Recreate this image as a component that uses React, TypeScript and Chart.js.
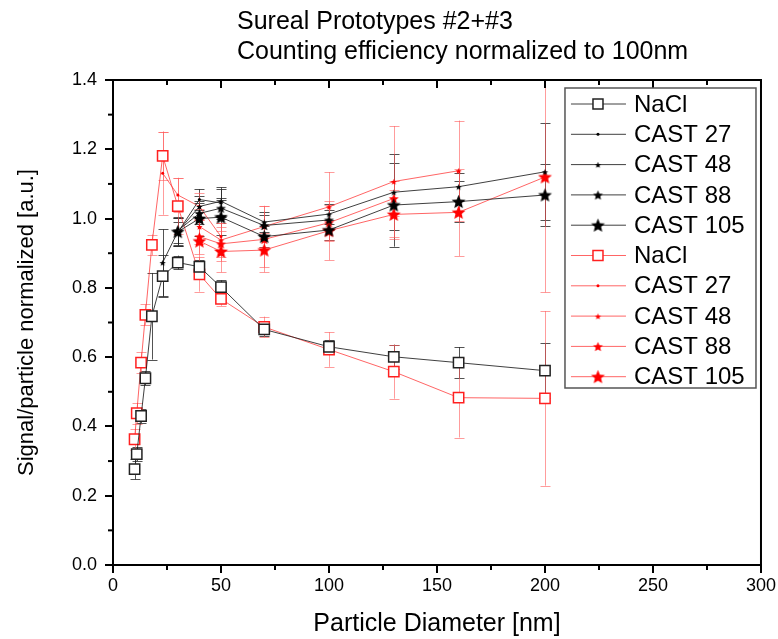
import React, { useEffect, useRef } from 'react';
import { Chart, registerables } from 'chart.js';

Chart.register(...registerables);

const FONT = "'Liberation Sans', Arial, sans-serif";

// ---------- data ----------
const titleLines = ['Sureal Prototypes #2+#3', 'Counting efficiency normalized to 100nm'];
const xTitle = 'Particle Diameter [nm]';
const yTitle = 'Signal/particle normalized [a.u.]';

const naclDiameters = [10, 11, 13, 15, 18, 23, 30, 40, 50, 70, 100, 130, 160, 200];
const blackNaCl = [0.277, 0.32, 0.43, 0.539, 0.718, 0.834, 0.873, 0.861, 0.802, 0.68, 0.63, 0.601, 0.584, 0.561];
const blackNaClErr = [0.03, 0.02, 0.02, 0.02, 0.125, 0.06, 0.02, 0.02, 0.02, 0.02, 0.02, 0.035, 0.045, 0.08];
const redNaCl = [0.363, 0.438, 0.584, 0.722, 0.924, 1.181, 1.036, 0.839, 0.768, 0.687, 0.622, 0.558, 0.483, 0.481];
const redNaClErr = [0.03, 0.03, 0.03, 0.03, 0.03, 0.07, 0.08, 0.05, 0.02, 0.03, 0.05, 0.078, 0.115, 0.252];

const black27X = [30, 40, 50];
const black27 = [0.96, 1.055, 1.045];
const black27Err = [0.03, 0.03, 0.04];
const black48X = [23, 30, 40, 50, 70, 100, 130, 160, 200];
const black48 = [0.873, 0.962, 1.035, 1.05, 0.99, 1.013, 1.076, 1.092, 1.135];
const black48Err = [0.096, 0.04, 0.03, 0.04, 0.03, 0.03, 0.11, 0.04, 0.14];
const black88X = [30, 40, 50, 70, 100];
const black88 = [0.965, 1.015, 1.03, 0.98, 0.996];
const black88Err = [0.04, 0.03, 0.03, 0.03, 0.03];
const black105X = [30, 40, 50, 70, 100, 130, 160, 200];
const black105 = [0.962, 1.0, 1.004, 0.948, 0.967, 1.039, 1.049, 1.068];
const black105Err = [0.04, 0.05, 0.05, 0.03, 0.03, 0.12, 0.06, 0.09];

const red27X = [23, 30, 40, 50];
const red27 = [1.131, 1.068, 1.035, 0.948];
const red27Err = [0.12, 0.05, 0.04, 0.04];
const red48X = [40, 50, 70, 100, 130, 160];
const red48 = [0.977, 0.938, 0.977, 1.034, 1.107, 1.138];
const red48Err = [0.05, 0.05, 0.06, 0.1, 0.16, 0.145];
const red88X = [40, 50, 70, 100, 130];
const red88 = [0.948, 0.927, 0.94, 0.988, 1.058];
const red88Err = [0.05, 0.05, 0.095, 0.05, 0.05];
const red105X = [40, 50, 70, 100, 130, 160, 200];
const red105 = [0.935, 0.905, 0.909, 0.965, 1.012, 1.018, 1.12];
const red105Err = [0.06, 0.06, 0.05, 0.085, 0.07, 0.126, 0.333];

const seriesLabels = ['NaCl', 'CAST 27', 'CAST 48', 'CAST 88', 'CAST 105'];

// ---------- helpers ----------
function makeStar(r: number, fill: string) {
  const s = Math.ceil(r * 2 + 2);
  const c = document.createElement('canvas');
  c.width = s;
  c.height = s;
  const ctx = c.getContext('2d')!;
  ctx.beginPath();
  for (let i = 0; i < 10; i++) {
    const rad = i % 2 === 0 ? r : r * 0.45;
    const a = -Math.PI / 2 + (i * Math.PI) / 5;
    const px = s / 2 + rad * Math.cos(a);
    const py = s / 2 + rad * Math.sin(a) + 0.6;
    if (i === 0) ctx.moveTo(px, py);
    else ctx.lineTo(px, py);
  }
  ctx.closePath();
  ctx.fillStyle = fill;
  ctx.fill();
  return c;
}

function pts(xs: number[], ys: number[]) {
  return xs.map((x, i) => ({ x, y: ys[i] }));
}

const BLACK_LINE = 'rgba(30,30,30,0.85)';
const RED_LINE = 'rgba(255,50,50,0.75)';
const BLACK_ERR = 'rgba(40,40,40,0.8)';
const RED_ERR = 'rgba(255,90,90,0.6)';

const errorBarPlugin = {
  id: 'errorBars',
  beforeDatasetsDraw(chart: any) {
    const { ctx, chartArea } = chart;
    const xs = chart.scales.x;
    const ys = chart.scales.y;
    ctx.save();
    ctx.beginPath();
    ctx.rect(chartArea.left, chartArea.top, chartArea.right - chartArea.left, chartArea.bottom - chartArea.top);
    ctx.clip();
    ctx.lineWidth = 1;
    chart.data.datasets.forEach((ds: any) => {
      ctx.strokeStyle = ds.errColor;
      ds.data.forEach((p: any, i: number) => {
        const e = ds.errors[i];
        const px = Math.round(xs.getPixelForValue(p.x)) + 0.5;
        const top = ys.getPixelForValue(p.y + e);
        const bot = ys.getPixelForValue(p.y - e);
        ctx.beginPath();
        ctx.moveTo(px, top);
        ctx.lineTo(px, bot);
        ctx.moveTo(px - 5, Math.round(top) + 0.5);
        ctx.lineTo(px + 5, Math.round(top) + 0.5);
        ctx.moveTo(px - 5, Math.round(bot) + 0.5);
        ctx.lineTo(px + 5, Math.round(bot) + 0.5);
        ctx.stroke();
      });
    });
    ctx.restore();
  },
};

const framePlugin = {
  id: 'frame',
  afterDraw(chart: any) {
    const { ctx, chartArea } = chart;
    const xs = chart.scales.x;
    const ys = chart.scales.y;
    ctx.save();
    ctx.strokeStyle = '#000';
    ctx.lineWidth = 2;
    ctx.beginPath();
    ctx.moveTo(chartArea.left, chartArea.top);
    ctx.lineTo(chartArea.right, chartArea.top);
    ctx.lineTo(chartArea.right, chartArea.bottom);
    ctx.stroke();
    for (let v = 0; v <= 300; v += 25) {
      const px = xs.getPixelForValue(v);
      const len = v % 50 === 0 ? 8 : 5;
      ctx.beginPath();
      ctx.moveTo(px, chartArea.top);
      ctx.lineTo(px, chartArea.top + len);
      ctx.stroke();
      if (v % 50 !== 0) {
        ctx.beginPath();
        ctx.moveTo(px, chartArea.bottom);
        ctx.lineTo(px, chartArea.bottom + 5);
        ctx.stroke();
      }
    }
    for (let k = 0; k <= 14; k++) {
      const v = k / 10;
      const py = ys.getPixelForValue(v);
      if (k % 2 === 1) {
        ctx.beginPath();
        ctx.moveTo(chartArea.left, py);
        ctx.lineTo(chartArea.left - 5, py);
        ctx.stroke();
      }
    }
    ctx.restore();
  },
};

const titlePlugin = {
  id: 'customTitle',
  afterDraw(chart: any) {
    const { ctx, chartArea } = chart;
    ctx.save();
    ctx.fillStyle = '#000';
    ctx.font = `25px ${FONT}`;
    ctx.textAlign = 'left';
    ctx.textBaseline = 'middle';
    titleLines.forEach((t, i) => {
      ctx.fillText(t, chartArea.left + 124, 22 + i * 30);
    });
    ctx.restore();
  },
};

const legendPlugin = {
  id: 'customLegend',
  afterDraw(chart: any) {
    const { ctx, chartArea } = chart;
    const left = chartArea.right - 196;
    const top = chartArea.top + 8;
    const w = 191;
    const h = 300;
    ctx.save();
    ctx.fillStyle = '#fff';
    ctx.fillRect(left, top, w, h);
    ctx.strokeStyle = '#555';
    ctx.lineWidth = 1.5;
    ctx.strokeRect(left, top, w, h);
    chart.data.datasets.forEach((ds: any, i: number) => {
      const cy = top + 16 + i * 30.3;
      ctx.strokeStyle = ds.borderColor;
      ctx.lineWidth = 1;
      ctx.beginPath();
      ctx.moveTo(left + 6, cy);
      ctx.lineTo(left + 61, cy);
      ctx.stroke();
      const mx = left + 33;
      const ps = ds.pointStyle;
      if (ps === 'rect') {
        const half = 5;
        ctx.fillStyle = '#fff';
        ctx.fillRect(mx - half, cy - half, half * 2, half * 2);
        ctx.strokeStyle = ds.pointBorderColor;
        ctx.lineWidth = 1.5;
        ctx.strokeRect(mx - half, cy - half, half * 2, half * 2);
      } else if (ps === 'circle') {
        ctx.fillStyle = ds.pointBackgroundColor;
        ctx.beginPath();
        ctx.arc(mx, cy, ds.pointRadius, 0, Math.PI * 2);
        ctx.fill();
      } else {
        ctx.drawImage(ps, mx - ps.width / 2, cy - ps.height / 2);
      }
      ctx.fillStyle = '#000';
      ctx.font = `24px ${FONT}`;
      ctx.textAlign = 'left';
      ctx.textBaseline = 'middle';
      ctx.fillText(ds.label, left + 69, cy + 1);
    });
    ctx.restore();
  },
};

export default function App() {
  const ref = useRef<HTMLCanvasElement>(null);

  useEffect(() => {
    const canvas = ref.current!;
    const starSmallB = makeStar(3.3, '#000');
    const starMedB = makeStar(5.2, '#000');
    const starBigB = makeStar(7.3, '#000');
    const starSmallR = makeStar(3.3, '#ff0000');
    const starMedR = makeStar(5.2, '#ff0000');
    const starBigR = makeStar(7.3, '#ff0000');

    const mk = (label: string, data: any[], errors: number[], black: boolean, style: any, radius: number) => ({
      label,
      data,
      errors,
      errColor: black ? BLACK_ERR : RED_ERR,
      showLine: true,
      borderColor: black ? BLACK_LINE : RED_LINE,
      borderWidth: 1,
      pointStyle: style,
      pointRadius: radius,
      pointBorderWidth: style === 'circle' ? 0 : 1.5,
      pointBorderColor: black ? '#222' : '#ff2020',
      pointBackgroundColor: style === 'rect' ? '#fff' : black ? '#000' : '#ff0000',
      tension: 0,
    });

    const datasets = [
      mk(seriesLabels[0], pts(naclDiameters, blackNaCl), blackNaClErr, true, 'rect', 7.3),
      mk(seriesLabels[1], pts(black27X, black27), black27Err, true, 'circle', 1.5),
      mk(seriesLabels[2], pts(black48X, black48), black48Err, true, starSmallB, 4),
      mk(seriesLabels[3], pts(black88X, black88), black88Err, true, starMedB, 6),
      mk(seriesLabels[4], pts(black105X, black105), black105Err, true, starBigB, 8),
      mk(seriesLabels[0], pts(naclDiameters, redNaCl), redNaClErr, false, 'rect', 7.3),
      mk(seriesLabels[1], pts(red27X, red27), red27Err, false, 'circle', 1.5),
      mk(seriesLabels[2], pts(red48X, red48), red48Err, false, starSmallR, 4),
      mk(seriesLabels[3], pts(red88X, red88), red88Err, false, starMedR, 6),
      mk(seriesLabels[4], pts(red105X, red105), red105Err, false, starBigR, 8),
    ];

    const chart = new Chart(canvas, {
      type: 'scatter',
      data: { datasets } as any,
      options: {
        responsive: false,
        animation: false,
        layout: { padding: { top: 80, right: 15, left: 0, bottom: 0 } },
        plugins: {
          legend: { display: false },
          title: { display: false },
          tooltip: { enabled: false },
        },
        scales: {
          x: {
            type: 'linear',
            min: 0,
            max: 300,
            ticks: {
              stepSize: 50,
              color: '#000',
              font: { family: FONT, size: 18 },
              padding: 2,
              maxRotation: 0,
            },
            grid: { drawOnChartArea: false, tickLength: 8, color: '#000', lineWidth: 2 },
            border: { color: '#000', width: 2 },
            title: { display: true, text: xTitle, color: '#000', font: { family: FONT, size: 25 }, padding: 0 },
            afterFit: (s: any) => {
              s.height = 74;
            },
          },
          y: {
            type: 'linear',
            min: 0,
            max: 1.4,
            ticks: {
              stepSize: 0.2,
              color: '#000',
              font: { family: FONT, size: 18 },
              padding: 8,
              callback: (v: any) => Number(v).toFixed(1),
            },
            grid: { drawOnChartArea: false, tickLength: 8, color: '#000', lineWidth: 2 },
            border: { color: '#000', width: 2 },
            title: { display: true, text: yTitle, color: '#000', font: { family: FONT, size: 22 }, padding: { top: 14, bottom: 0 } },
            afterFit: (s: any) => {
              s.width = 113;
            },
          },
        },
      },
      plugins: [errorBarPlugin, framePlugin, titlePlugin, legendPlugin],
    } as any);

    return () => chart.destroy();
  }, []);

  return (
    <div style={{ position: 'fixed', left: 0, top: 0, width: 778, height: 639, background: '#fff' }}>
      <canvas ref={ref} width={778} height={639} style={{ display: 'block' }} />
    </div>
  );
}
